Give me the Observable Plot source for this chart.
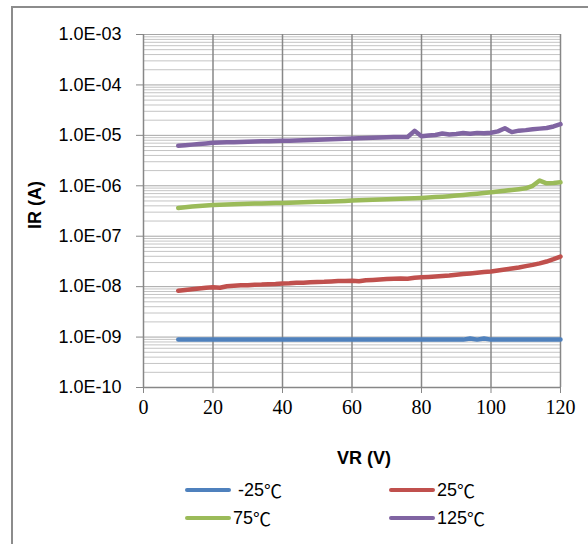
<!DOCTYPE html>
<html><head><meta charset="utf-8">
<script src="https://cdn.jsdelivr.net/npm/d3@7"></script>
<script src="https://cdn.jsdelivr.net/npm/@observablehq/plot@0.6"></script>
<style>
body{margin:0;background:#fff;}
#wrap{position:relative;width:588px;height:544px;overflow:hidden;background:#fff;}
#frame{position:absolute;left:11px;top:6px;width:620px;height:620px;border-left:2px solid #8c8c8c;border-top:2px solid #8c8c8c;}
#chart{position:absolute;left:0;top:0;}
.leg{position:absolute;font-family:"Liberation Sans",Arial,sans-serif;font-size:18px;color:#000;display:flex;align-items:center;height:22px;white-space:pre;}
.sw{display:inline-block;width:46px;height:4.5px;border-radius:2px;margin-right:2px;}
.deg{font-family:"Noto Sans CJK JP",sans-serif;}
</style>
</head><body>
<div id="wrap"><div id="frame"></div><div id="chart"></div><div id="legend"></div></div>
<script>
const vr = [10,12,14,16,18,20,22,24,26,28,30,32,34,36,38,40,42,44,46,48,50,52,54,56,58,60,62,64,66,68,70,72,74,76,78,80,82,84,86,88,90,92,94,96,98,100,102,104,106,108,110,112,114,116,118,120];
const irM25 = [0.89e-9,0.89e-9,0.89e-9,0.89e-9,0.89e-9,0.89e-9,0.89e-9,0.89e-9,0.89e-9,0.89e-9,0.89e-9,0.89e-9,0.89e-9,0.89e-9,0.89e-9,0.89e-9,0.89e-9,0.89e-9,0.89e-9,0.89e-9,0.89e-9,0.89e-9,0.89e-9,0.89e-9,0.89e-9,0.89e-9,0.89e-9,0.89e-9,0.89e-9,0.89e-9,0.89e-9,0.89e-9,0.89e-9,0.89e-9,0.89e-9,0.89e-9,0.89e-9,0.89e-9,0.89e-9,0.89e-9,0.89e-9,0.89e-9,0.94e-9,0.89e-9,0.94e-9,0.89e-9,0.89e-9,0.89e-9,0.89e-9,0.89e-9,0.89e-9,0.89e-9,0.89e-9,0.89e-9,0.89e-9,0.89e-9];
const ir25 = [8.3e-9,8.6e-9,8.9e-9,9.2e-9,9.5e-9,9.7e-9,9.5e-9,10.2e-9,10.4e-9,10.6e-9,10.7e-9,10.9e-9,11.0e-9,11.2e-9,11.3e-9,11.6e-9,11.7e-9,11.9e-9,12.0e-9,12.2e-9,12.4e-9,12.5e-9,12.7e-9,12.9e-9,13.0e-9,13.1e-9,12.8e-9,13.4e-9,13.6e-9,13.8e-9,14.1e-9,14.3e-9,14.5e-9,14.4e-9,15.0e-9,15.3e-9,15.6e-9,15.9e-9,16.3e-9,16.7e-9,17.3e-9,17.8e-9,18.3e-9,18.9e-9,19.6e-9,20.0e-9,20.9e-9,21.8e-9,22.9e-9,24.0e-9,25.5e-9,27.0e-9,29.0e-9,31.5e-9,35.0e-9,39.4e-9];
const ir75 = [3.64e-7,3.76e-7,3.88e-7,3.98e-7,4.08e-7,4.18e-7,4.22e-7,4.27e-7,4.31e-7,4.35e-7,4.40e-7,4.43e-7,4.47e-7,4.50e-7,4.54e-7,4.58e-7,4.62e-7,4.66e-7,4.70e-7,4.75e-7,4.80e-7,4.85e-7,4.90e-7,4.96e-7,5.02e-7,5.08e-7,5.14e-7,5.20e-7,5.27e-7,5.33e-7,5.40e-7,5.46e-7,5.53e-7,5.60e-7,5.67e-7,5.75e-7,5.85e-7,5.96e-7,6.08e-7,6.22e-7,6.40e-7,6.58e-7,6.77e-7,6.98e-7,7.20e-7,7.43e-7,7.70e-7,7.98e-7,8.28e-7,8.58e-7,8.90e-7,10.0e-7,12.7e-7,11.2e-7,11.4e-7,11.7e-7];
const ir125 = [6.19e-6,6.36e-6,6.55e-6,6.74e-6,6.92e-6,7.10e-6,7.18e-6,7.26e-6,7.34e-6,7.42e-6,7.50e-6,7.56e-6,7.62e-6,7.68e-6,7.73e-6,7.78e-6,7.86e-6,7.94e-6,8.03e-6,8.11e-6,8.20e-6,8.29e-6,8.39e-6,8.48e-6,8.58e-6,8.68e-6,8.78e-6,8.88e-6,8.98e-6,9.08e-6,9.20e-6,9.23e-6,9.26e-6,9.30e-6,12.3e-6,9.6e-6,9.9e-6,10.2e-6,10.9e-6,10.4e-6,10.6e-6,11.1e-6,10.8e-6,11.2e-6,11.0e-6,11.3e-6,12.0e-6,13.8e-6,11.6e-6,12.4e-6,12.7e-6,13.2e-6,13.6e-6,14.0e-6,15.0e-6,16.7e-6];
const seriesNames = [" -25","25","75","125"];
const seriesColors = ["#4F81BD","#C0504D","#9BBB59","#8064A2"];
const xTicks = [0,20,40,60,80,100,120];
const yTicks = [1e-10,1e-9,1e-8,1e-7,1e-6,1e-5,1e-4,1e-3];
const yTickLabels = ["1.0E-10","1.0E-09","1.0E-08","1.0E-07","1.0E-06","1.0E-05","1.0E-04","1.0E-03"];

const seriesValues = [irM25, ir25, ir75, ir125];
const data = seriesValues.flatMap((vals, s) => vals.map((v, i) => ({vr: vr[i], ir: v, s})));
const minor = [];
for (let k = -10; k < -3; k++) for (let m = 2; m <= 9; m++) minor.push(m * Math.pow(10, k));
const yLabel = d => yTickLabels[Math.round(Math.log10(d)) + 10];

const plot = Plot.plot({
  width: 588, height: 480,
  marginLeft: 143, marginRight: 28, marginTop: 34, marginBottom: 93,
  style: {fontFamily: "Liberation Sans, Arial, sans-serif", background: "transparent"},
  x: {domain: [0, 120]},
  y: {type: "log", domain: [1e-10, 1e-3]},
  marks: [
    Plot.ruleY(minor, {stroke: "#c4c4c4", strokeWidth: 1}),
    Plot.ruleY(yTicks, {stroke: "#a6a6a6", strokeWidth: 1}),
    Plot.ruleX(xTicks, {stroke: "#878787", strokeWidth: 1.5}),
    Plot.ruleY([1e-10], {stroke: "#878787", strokeWidth: 1.5}),
    Plot.axisY({ticks: yTicks, tickFormat: yLabel, tickSize: 7, tickPadding: 15, stroke: "#878787", fill: "#000", fontSize: 18, label: null}),
    Plot.axisX({ticks: xTicks, tickSize: 6, tickPadding: 6, stroke: "#878787", fill: "#000", fontSize: 20, fontFamily: "Liberation Serif, serif", label: null}),
    Plot.line(data, {x: "vr", y: "ir", z: "s", stroke: d => seriesColors[d.s], strokeWidth: 4.5, strokeLinecap: "round", strokeLinejoin: "round"}),
    Plot.text(["VR (V)"], {frameAnchor: "bottom", dx: 12, dy: 76, fontSize: 18, fontWeight: "bold", fill: "#000"}),
    Plot.text(["IR (A)"], {frameAnchor: "left", dx: -108, dy: 18, rotate: -90, fontSize: 18, fontWeight: "bold", fill: "#000"})
  ]
});
document.getElementById("chart").appendChild(plot);

const legPos = [[185, 479], [389, 479], [185, 507], [389, 507]];
const leg = document.getElementById("legend");
seriesNames.forEach((n, i) => {
  const d = document.createElement("div");
  d.className = "leg";
  d.style.left = legPos[i][0] + "px";
  d.style.top = legPos[i][1] + "px";
  d.innerHTML = `<span class="sw" style="background:${seriesColors[i]}"></span><span>${n}</span><span class="deg">℃</span>`;
  leg.appendChild(d);
});
</script>
</body></html>
